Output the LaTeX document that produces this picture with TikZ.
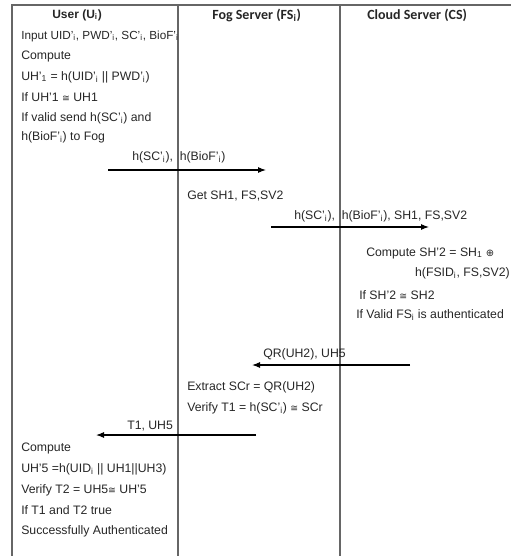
\documentclass[tikz,border=0pt]{standalone}
\usepackage{fontspec}
\setmainfont{Liberation Sans}
\newfontfamily\hdfont{Carlito}
\newfontfamily\symfont{DejaVu Sans}
\newcommand{\apx}{{\symfont\fontsize{7}{8}\selectfont ≅}}
\newcommand{\xo}{{\symfont\fontsize{7.5}{8}\selectfont ⊕}}
\usetikzlibrary{arrows.meta}
\begin{document}
\begin{tikzpicture}[x=0.75pt,y=-0.75pt,
  txt/.style={anchor=west,inner sep=0pt,text=black!85,font=\fontsize{9.2}{10}\selectfont},
  txtr/.style={anchor=east,inner sep=0pt,text=black!85,font=\fontsize{9.2}{10}\selectfont},
  hdr/.style={anchor=west,inner sep=0pt,text=black!85,font=\fontsize{9}{10}\selectfont\bfseries},
  hdrc/.style={anchor=west,inner sep=0pt,text=black!85,font=\fontsize{10.5}{11}\hdfont\bfseries},
  frame/.style={draw=black!60,line width=0.8pt},
  msg/.style={draw=black,line width=0.8pt,-{Latex[length=6pt,width=4.5pt]}}]
\useasboundingbox (0,0) rectangle (511,556);
% frame
\coordinate (tl) at (12,5);
\coordinate (tr) at (511,5);
\coordinate (bl) at (12,556);
\coordinate (c1t) at (178,5);
\coordinate (c1b) at (178,556);
\coordinate (c2t) at (340,5);
\coordinate (c2b) at (340,556);
\draw[frame] (bl) -- (tl) -- (tr);
\draw[frame] (c1t) -- (c1b);
\draw[frame] (c2t) -- (c2b);
% headers
\node[hdr] (hu) at (52,15) {User (U\textsubscript{i})};
\node[hdrc] (hf) at (212,15) {Fog Server (FS\textsubscript{i})};
\node[hdrc] (hc) at (367,15) {Cloud Server (CS)};
% user
\node[txt,font=\fontsize{8.8}{10}\selectfont] (u1) at (21,36) {Input UID'\textsubscript{i}, PWD'\textsubscript{i}, SC'\textsubscript{i}, BioF'\textsubscript{i}};
\node[txt] (u2) at (21,56) {Compute};
\node[txt] (u3) at (21,77) {UH'\textsubscript{1} = h(UID'\textsubscript{i} || PWD'\textsubscript{i})};
\node[txt] (u4) at (21,97) {If UH'1 \apx\ UH1};
\node[txt] (u5) at (21,118) {If valid send h(SC'\textsubscript{i}) and};
\node[txt] (u6) at (21,137) {h(BioF'\textsubscript{i}) to Fog};
% msg 1
\coordinate (m1a) at (108,170);
\coordinate (m1b) at (266,170);
\draw[msg] (m1a) -- (m1b);
\node[txt] (l1) at (132,157) {h(SC'\textsubscript{i}),\ \ h(BioF'\textsubscript{i})};
% fog
\node[txt] (f1) at (187,196) {Get SH1, FS,SV2};
% msg 2
\coordinate (m2a) at (271,227);
\coordinate (m2b) at (429,227);
\draw[msg] (m2a) -- (m2b);
\node[txt] (l2) at (294,216) {h(SC'\textsubscript{i}),\ \ h(BioF'\textsubscript{i}), SH1,\ FS,SV2};
% cloud
\node[txt] (c1) at (366,253) {Compute SH'2 = SH\textsubscript{1} \xo};
\node[txtr] (c2) at (510,273) {h(FSID\textsubscript{i}, FS,SV2)};
\node[txt] (c3) at (359,295) {If SH'2 \apx\ SH2};
\node[txt] (c4) at (356,315) {If Valid FS\textsubscript{i} is authenticated};
% msg 3
\coordinate (m3a) at (410,365);
\coordinate (m3b) at (252,365);
\draw[msg] (m3a) -- (m3b);
\node[txt] (l3) at (263,354) {QR(UH2), UH5};
% fog 2
\node[txt] (f2) at (187,387) {Extract SCr = QR(UH2)};
\node[txt] (f3) at (187,408) {Verify T1 = h(SC'\textsubscript{i}) \apx\ SCr};
% msg 4
\coordinate (m4a) at (256,435);
\coordinate (m4b) at (96,435);
\draw[msg] (m4a) -- (m4b);
\node[txt] (l4) at (127,426) {T1, UH5};
% user 2
\node[txt] (u7) at (21,448) {Compute};
\node[txt] (u8) at (21,469) {UH'5 =h(UID\textsubscript{i} || UH1||UH3)};
\node[txt] (u9) at (21,490) {Verify T2 = UH5\apx\ UH'5};
\node[txt] (u10) at (21,510) {If T1 and T2 true};
\node[txt] (u11) at (21,531) {Successfully Authenticated};
\end{tikzpicture}
\end{document}
